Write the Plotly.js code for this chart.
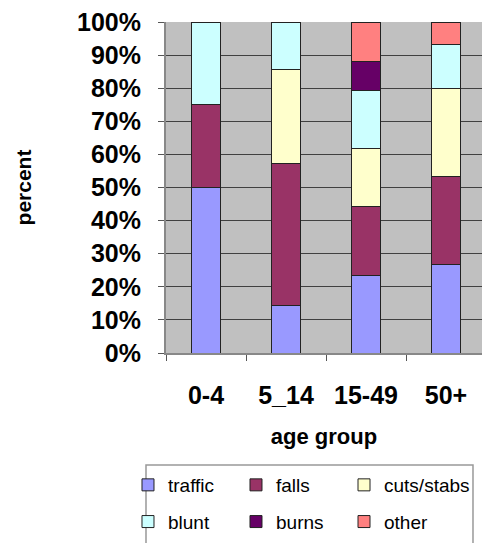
<!DOCTYPE html>
<html>
<head>
<meta charset="utf-8">
<script src="https://cdn.plot.ly/plotly-3.0.1.min.js"></script>
<style>html,body{margin:0;padding:0;overflow:hidden;background:#fff}#chart{width:482px;height:543px}</style>
</head>
<body>
<div id="chart"></div>
<script>
// categories
var ageGroups = ['0-4', '5_14', '15-49', '50+'];
// series values (percent of each age group)
var traffic    = [50.0, 14.3, 23.5, 26.7];
var falls      = [25.0, 42.9, 20.6, 26.7];
var cutsStabs  = [null, 28.6, 17.6, 26.7];
var blunt      = [25.0, 14.3, 17.6, 13.3];
var burns      = [null, null, 8.8, null];
var other      = [null, null, 11.8, 6.7];
var seriesNames = ['traffic', 'falls', 'cuts/stabs', 'blunt', 'burns', 'other'];
var seriesValues = [traffic, falls, cutsStabs, blunt, burns, other];
var seriesColors = ['#9999FF', '#993366', '#FFFFCC', '#CCFFFF', '#660066', '#FF8080'];
// legend columns (3 columns x 2 rows, filled row by row)
var seriesLegend = ['legend', 'legend2', 'legend3', 'legend', 'legend2', 'legend3'];
// tick labels
var yTickVals = [0, 10, 20, 30, 40, 50, 60, 70, 80, 90, 100];
var yTickText = ['0%', '10%', '20%', '30%', '40%', '50%', '60%', '70%', '80%', '90%', '100%'];

var traces = seriesNames.map(function (name, i) {
  return {
    type: 'bar',
    name: name,
    x: ageGroups,
    y: seriesValues[i],
    width: 0.37,
    legend: seriesLegend[i],
    legendgroup: name,
    marker: {color: seriesColors[i], line: {color: '#222', width: 1}},
    hoverinfo: 'name+y'
  };
});

var fam = 'Liberation Sans, Arial, sans-serif';
var axisFont = {family: fam, size: 25, color: '#000', weight: 'bold'};
var legendFont = {family: fam, size: 19, color: '#000'};

function legendCol(xLeft) {
  return {
    orientation: 'v',
    traceorder: 'grouped',
    tracegroupgap: 9,
    x: xLeft,
    xanchor: 'left',
    y: -0.3414,
    yanchor: 'top',
    bgcolor: 'rgba(0,0,0,0)',
    borderwidth: 0,
    font: legendFont
  };
}

var layout = {
  width: 482,
  height: 543,
  margin: {l: 166, r: 0, t: 22, b: 190},
  paper_bgcolor: '#ffffff',
  plot_bgcolor: '#C0C0C0',
  barmode: 'stack',
  barnorm: 'percent',
  showlegend: true,
  xaxis: {
    type: 'category',
    range: [-0.5, 3.45],
    tickson: 'boundaries',
    ticks: 'outside',
    ticklen: 6,
    tickcolor: '#555',
    showline: true,
    linecolor: '#888',
    linewidth: 2,
    showgrid: false,
    tickfont: axisFont,
    ticklabelstandoff: 19,
    title: {text: 'age group', font: {family: fam, size: 22, color: '#000', weight: 'bold'}, standoff: 21},
    fixedrange: true
  },
  yaxis: {
    range: [0, 100],
    tickmode: 'array',
    tickvals: yTickVals,
    ticktext: yTickText,
    ticks: 'outside',
    ticklen: 6,
    tickcolor: '#555',
    showline: true,
    linecolor: '#888',
    linewidth: 2,
    showgrid: true,
    gridcolor: '#404040',
    gridwidth: 1,
    zeroline: false,
    tickfont: axisFont,
    ticklabelstandoff: 12,
    title: {text: 'percent', font: {family: fam, size: 21, color: '#000', weight: 'bold'}, standoff: 40},
    fixedrange: true
  },
  legend: legendCol(-0.1203),
  legend2: legendCol(0.2215),
  legend3: legendCol(0.5633),
  shapes: [{
    type: 'rect',
    xref: 'paper', yref: 'paper',
    x0: -0.0633, x1: 0.9715,
    y0: -0.3384, y1: -0.585,
    line: {color: '#999', width: 1.5},
    fillcolor: '#ffffff',
    layer: 'below'
  }]
};

Plotly.newPlot('chart', traces, layout, {displayModeBar: false, staticPlot: true});
</script>
</body>
</html>
